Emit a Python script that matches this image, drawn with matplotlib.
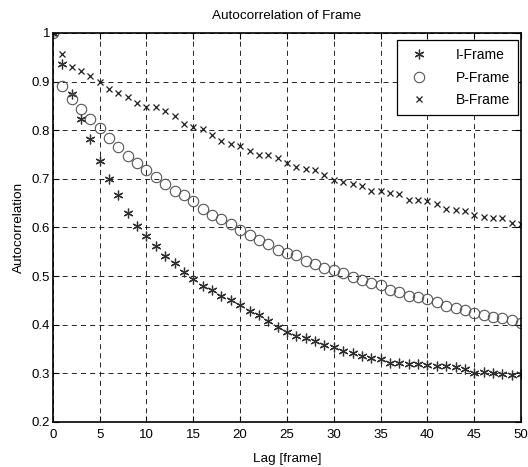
import matplotlib.pyplot as plt
import numpy as np

plt.rcParams['font.family'] = ['Liberation Sans', 'DejaVu Sans']

# lags 0..50
lag = np.arange(0, 51)

iFrame = [1.000, 0.936, 0.874, 0.823, 0.781, 0.736, 0.700, 0.666, 0.630, 0.604,
          0.582, 0.561, 0.542, 0.527, 0.509, 0.495, 0.480, 0.471, 0.459, 0.450,
          0.440, 0.429, 0.419, 0.407, 0.396, 0.386, 0.377, 0.372, 0.367, 0.359,
          0.354, 0.345, 0.341, 0.335, 0.331, 0.329, 0.322, 0.322, 0.320, 0.320,
          0.317, 0.316, 0.316, 0.314, 0.308, 0.301, 0.303, 0.300, 0.299, 0.297,
          0.298]

pFrame = [1.000, 0.891, 0.864, 0.843, 0.823, 0.805, 0.785, 0.766, 0.748, 0.732,
          0.719, 0.703, 0.690, 0.676, 0.666, 0.654, 0.639, 0.626, 0.618, 0.607,
          0.595, 0.585, 0.575, 0.566, 0.554, 0.548, 0.543, 0.532, 0.525, 0.517,
          0.512, 0.506, 0.498, 0.492, 0.486, 0.481, 0.472, 0.467, 0.460, 0.457,
          0.452, 0.446, 0.439, 0.434, 0.430, 0.424, 0.419, 0.415, 0.413, 0.410,
          0.404]

bFrame = [1.000, 0.957, 0.931, 0.921, 0.912, 0.899, 0.885, 0.877, 0.869, 0.857,
          0.848, 0.847, 0.840, 0.829, 0.813, 0.806, 0.802, 0.790, 0.778, 0.771,
          0.767, 0.757, 0.749, 0.750, 0.743, 0.733, 0.724, 0.721, 0.719, 0.708,
          0.698, 0.693, 0.690, 0.685, 0.674, 0.676, 0.671, 0.668, 0.657, 0.657,
          0.655, 0.648, 0.638, 0.636, 0.633, 0.626, 0.622, 0.619, 0.619, 0.610,
          0.607]

fig = plt.figure(figsize=(5.28, 4.67), dpi=100)
ax = fig.add_axes([0.100, 0.0964, 0.887, 0.833])

ax.plot(lag, iFrame, linestyle='none', marker=(6, 2, 0), markersize=7,
        markeredgewidth=0.9, color='#303030', label='I-Frame')
ax.plot(lag, pFrame, linestyle='none', marker='o', markersize=7.5,
        markerfacecolor='none', markeredgewidth=0.8, color='#555555', label='P-Frame')
ax.plot(lag, bFrame, linestyle='none', marker='x', markersize=4,
        markeredgewidth=0.9, color='#202020', label='B-Frame')

ax.set_xlim(0, 50)
ax.set_ylim(0.2, 1.0)
ax.set_xticks(np.arange(0, 51, 5))
ax.set_yticks(np.arange(0.2, 1.01, 0.1))
ax.set_yticklabels(['0.2', '0.3', '0.4', '0.5', '0.6', '0.7', '0.8', '0.9', '1'])
ax.tick_params(direction='in', top=True, right=True, labelsize=9.5, length=4)
ax.tick_params(axis='x', pad=5)
ax.tick_params(axis='y', pad=2)
ax.grid(True, color='black', linestyle=(0, (6, 5)), linewidth=0.6)
for s in ax.spines.values():
    s.set_linewidth(1.2)

ax.set_title('Autocorrelation of Frame', fontsize=9.7, pad=10)
ax.set_xlabel('Lag [frame]', fontsize=9.7, labelpad=9)
ax.set_ylabel('Autocorrelation', fontsize=9.7, labelpad=5)

leg = ax.legend(loc='upper right', fontsize=10, fancybox=False, edgecolor='black',
                framealpha=1, handletextpad=1.6, borderpad=0.6, labelspacing=0.6,
                handlelength=2.0, borderaxespad=0, bbox_to_anchor=(0.9936, 0.982))
leg.get_frame().set_linewidth(0.9)

fig.savefig('out.png', dpi=100)
